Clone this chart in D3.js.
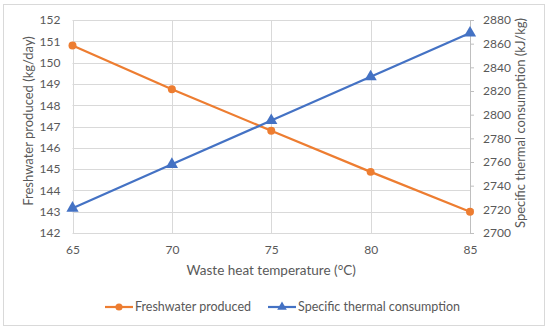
<!DOCTYPE html>
<html>
<head>
<meta charset="utf-8">
<script src="https://cdn.jsdelivr.net/npm/d3@7"></script>
<style>
  body { margin: 0; background: #fff; }
  text { font-family: Lato, sans-serif; fill: #595959; }
</style>
</head>
<body>
<div id="chart"></div>
<script>
// waste heat temperature (°C)
const temps = [65, 70, 75, 80, 85];
const freshwater = [150.8, 148.75, 146.8, 144.87, 143.0];
const thermal = [2721, 2758, 2795, 2832, 2869];
const leftTicks = [142, 143, 144, 145, 146, 147, 148, 149, 150, 151, 152];
const rightTicks = [2700, 2720, 2740, 2760, 2780, 2800, 2820, 2840, 2860, 2880];

const width = 550, height = 331;
const plotL = 72.5, plotR = 470, plotT = 20, plotB = 233;
const orange = "#ed7d31", blue = "#4472c4";

const svg = d3.select("#chart").append("svg")
  .attr("width", width)
  .attr("height", height);

// outer frame
svg.append("rect")
  .attr("x", 3.5).attr("y", 4.5)
  .attr("width", 541).attr("height", 321)
  .attr("fill", "#fff")
  .attr("stroke", "#d9d9d9");

const x = d3.scaleLinear().domain([65, 85]).range([plotL, plotR]);
const yL = d3.scaleLinear().domain([142, 152]).range([plotB, plotT]);
const yR = d3.scaleLinear().domain([2700, 2880]).range([plotB, plotT]);

// gridlines
svg.append("g").selectAll("line")
  .data(leftTicks)
  .enter().append("line")
  .attr("x1", plotL).attr("x2", plotR)
  .attr("y1", (d) => Math.round(yL(d)) + 0.5)
  .attr("y2", (d) => Math.round(yL(d)) + 0.5)
  .attr("stroke", "#d9d9d9");

svg.append("g").selectAll("line")
  .data(temps)
  .enter().append("line")
  .attr("x1", (d) => Math.round(x(d)) + 0.5)
  .attr("x2", (d) => Math.round(x(d)) + 0.5)
  .attr("y1", plotT).attr("y2", plotB)
  .attr("stroke", "#d9d9d9");

// axes
const xAxis = svg.append("g")
  .attr("transform", "translate(0," + plotB + ")")
  .call(d3.axisBottom(x).tickValues(temps).tickSize(0).tickPadding(12));

const leftAxis = svg.append("g")
  .attr("transform", "translate(" + plotL + ",0)")
  .call(d3.axisLeft(yL).tickValues(leftTicks).tickSize(0).tickPadding(12));

const rightAxis = svg.append("g")
  .attr("transform", "translate(" + plotR + ",0)")
  .call(d3.axisRight(yR).tickValues(rightTicks).tickFormat(d3.format("d")).tickSize(4).tickPadding(9));

[xAxis, leftAxis, rightAxis].forEach((g) => {
  g.select(".domain").attr("stroke", "#bfbfbf");
  g.selectAll(".tick line").attr("stroke", "#bfbfbf");
  g.selectAll(".tick text")
    .style("font-size", "12px")
    .attr("fill", "#595959");
});
leftAxis.select(".domain").remove();
xAxis.select(".domain").remove();

// axis titles
svg.append("text")
  .attr("x", (plotL + plotR) / 2)
  .attr("y", 275)
  .attr("text-anchor", "middle")
  .style("font-size", "13.5px")
  .text("Waste heat temperature (°C)");

svg.append("text")
  .attr("transform", "translate(33," + 121 + ") rotate(-90)")
  .attr("text-anchor", "middle")
  .style("font-size", "13px")
  .text("Freshwater produced (kg/day)");

svg.append("text")
  .attr("transform", "translate(525," + 123 + ") rotate(-90)")
  .attr("text-anchor", "middle")
  .style("font-size", "13px")
  .text("Specific thermal consumption (kJ/kg)");

// series
const freshData = temps.map((t, i) => ({ t: t, v: freshwater[i] }));
const thermData = temps.map((t, i) => ({ t: t, v: thermal[i] }));

svg.append("path")
  .datum(freshData)
  .attr("fill", "none")
  .attr("stroke", orange)
  .attr("stroke-width", 2.2)
  .attr("d", d3.line().x((d) => x(d.t)).y((d) => yL(d.v)));

svg.append("path")
  .datum(thermData)
  .attr("fill", "none")
  .attr("stroke", blue)
  .attr("stroke-width", 2.2)
  .attr("d", d3.line().x((d) => x(d.t)).y((d) => yR(d.v)));

const circle = d3.symbol().type(d3.symbolCircle).size(50);
const tri = d3.symbol().type(d3.symbolTriangle).size(65);

svg.append("g").selectAll("path")
  .data(freshData)
  .enter().append("path")
  .attr("d", circle)
  .attr("fill", orange)
  .attr("transform", (d) => "translate(" + x(d.t) + "," + yL(d.v) + ")");

svg.append("g").selectAll("path")
  .data(thermData)
  .enter().append("path")
  .attr("d", tri)
  .attr("fill", blue)
  .attr("transform", (d) => "translate(" + x(d.t) + "," + yR(d.v) + ")");

// legend
const legend = [
  { name: "Freshwater produced", color: orange, type: d3.symbolCircle, x: 105 },
  { name: "Specific thermal consumption", color: blue, type: d3.symbolTriangle, x: 268 }
];
const lg = svg.append("g").selectAll("g")
  .data(legend)
  .enter().append("g")
  .attr("transform", (d) => "translate(" + d.x + ",307)");
lg.append("line")
  .attr("x1", 0).attr("x2", 28)
  .attr("stroke", (d) => d.color)
  .attr("stroke-width", 2.2);
lg.append("path")
  .attr("d", (d) => d3.symbol().type(d.type).size(40)())
  .attr("fill", (d) => d.color)
  .attr("transform", "translate(14,0)");
lg.append("text")
  .attr("x", 30)
  .attr("dy", "0.35em")
  .style("font-size", "12.5px")
  .text((d) => d.name);
</script>
</body>
</html>
